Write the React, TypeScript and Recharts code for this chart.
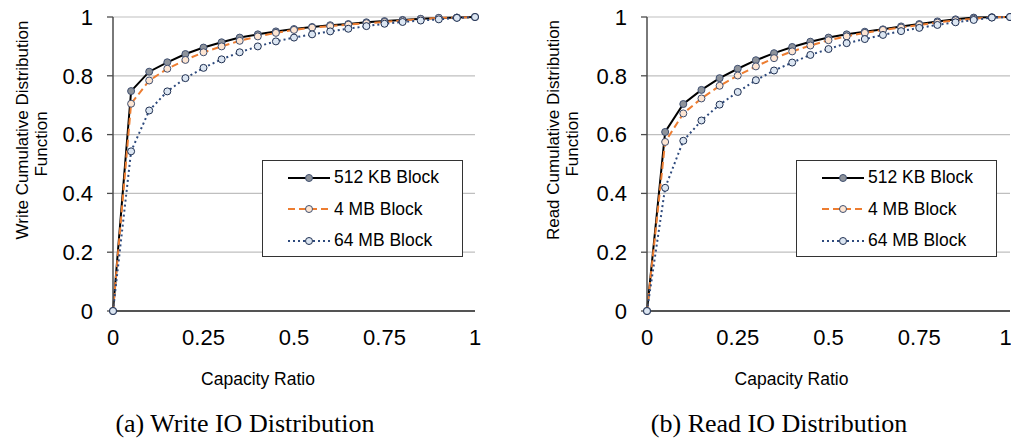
import { LineChart, Line, XAxis, YAxis, CartesianGrid, Legend } from 'recharts'

const capacity = [0, 0.05, 0.1, 0.15, 0.2, 0.25, 0.3, 0.35, 0.4, 0.45, 0.5, 0.55, 0.6, 0.65, 0.7, 0.75, 0.8, 0.85, 0.9, 0.95, 1]

const write512 = [0, 0.748, 0.814, 0.846, 0.874, 0.896, 0.914, 0.93, 0.941, 0.951, 0.959, 0.966, 0.972, 0.976, 0.982, 0.986, 0.99, 0.994, 0.997, 0.998, 1]
const write4 = [0, 0.705, 0.784, 0.824, 0.854, 0.88, 0.9, 0.919, 0.934, 0.946, 0.956, 0.964, 0.969, 0.974, 0.979, 0.983, 0.988, 0.993, 0.997, 0.998, 1]
const write64 = [0, 0.543, 0.682, 0.747, 0.792, 0.827, 0.856, 0.88, 0.9, 0.917, 0.93, 0.941, 0.951, 0.96, 0.969, 0.977, 0.983, 0.988, 0.992, 0.997, 1]

const read512 = [0, 0.609, 0.704, 0.752, 0.792, 0.824, 0.853, 0.877, 0.898, 0.916, 0.93, 0.941, 0.95, 0.958, 0.968, 0.976, 0.985, 0.992, 0.998, 0.999, 1]
const read4 = [0, 0.575, 0.672, 0.723, 0.766, 0.801, 0.832, 0.86, 0.883, 0.903, 0.921, 0.934, 0.946, 0.956, 0.964, 0.973, 0.981, 0.989, 0.994, 0.999, 1]
const read64 = [0, 0.419, 0.579, 0.648, 0.702, 0.745, 0.785, 0.818, 0.845, 0.871, 0.891, 0.911, 0.925, 0.939, 0.952, 0.963, 0.973, 0.982, 0.99, 0.998, 1]

const xTicks = [0, 0.25, 0.5, 0.75, 1]
const yTicks = [0, 0.2, 0.4, 0.6, 0.8, 1]
const seriesNames = ['512 KB Block', '4 MB Block', '64 MB Block']

const FONT = '"Liberation Sans", Arial, sans-serif'

const styles = [
  { key: 's512', color: '#000000', dash: undefined, fill: '#8e939b', dotStroke: '#3f4f70' },
  { key: 's4', color: '#ed7d31', dash: '7 4', fill: '#fde5d2', dotStroke: '#3f4f70' },
  { key: 's64', color: '#2e4a7d', dash: '2 3', fill: '#dce6f2', dotStroke: '#1f2f50' },
]

function buildRows(a: number[], b: number[], c: number[]) {
  return capacity.map((x, i) => ({ x, s512: a[i], s4: b[i], s64: c[i] }))
}

function LegendBox() {
  return (
    <div style={{ border: '1px solid #333', background: '#fff', width: 199, height: 94, boxSizing: 'content-box', paddingTop: 1 }}>
      {styles.map((s, i) => (
        <div key={s.key} style={{ display: 'flex', alignItems: 'center', height: 31.5, fontFamily: FONT, fontSize: 17.5, color: '#000' }}>
          <svg width={71} height={12} style={{ flex: 'none' }}>
            <line x1={25} x2={67} y1={6} y2={6} stroke={s.color} strokeWidth={2} strokeDasharray={s.dash} />
            <circle cx={46} cy={6} r={3.5} fill={s.fill} stroke={s.dotStroke} strokeWidth={1} />
          </svg>
          <span>{seriesNames[i]}</span>
        </div>
      ))}
    </div>
  )
}

interface PanelProps {
  rows: { x: number; s512: number; s4: number; s64: number }[]
  yTitle: string
  caption: string
  left: number
  width: number
  marginLeft: number
  marginRight: number
  legendLeft: number
  titleX: number
  captionX: number
  labelShift: number
}

function Panel({ rows, yTitle, caption, left, width, marginLeft, marginRight, legendLeft, titleX, captionX, labelShift }: PanelProps) {
  return (
    <div style={{ position: 'absolute', left, top: 0, width, height: 446 }}>
      <LineChart width={width} height={446} data={rows}
        margin={{ top: 17, right: marginRight, bottom: 105, left: marginLeft }}>
        <CartesianGrid horizontal vertical={false} stroke="#bfbfbf" strokeWidth={1.2} />
        <XAxis dataKey="x" type="number" domain={[0, 1]} ticks={xTicks} height={30}
          tickFormatter={(v: number) => String(v)}
          axisLine={{ stroke: '#262626', strokeWidth: 1.3 }} tickLine={false} tickMargin={12}
          tick={{ fontSize: 22, fontFamily: FONT, fill: '#000' }}
          label={{
            content: ({ viewBox }: any) => (
              <text x={viewBox.x + viewBox.width / 2 + labelShift} y={379} dy="0.35em" textAnchor="middle"
                fontSize={17.5} fontFamily={FONT} fill="#000">Capacity Ratio</text>
            ),
          }} />
        <YAxis type="number" domain={[0, 1]} ticks={yTicks} width={60} interval={0}
          tickFormatter={(v: number) => String(v)}
          axisLine={{ stroke: '#4d4d4d', strokeWidth: 1.5 }} tickLine={{ stroke: '#4d4d4d', strokeWidth: 1.3 }}
          tickSize={6} tickMargin={14}
          tick={{ fontSize: 22, fontFamily: FONT, fill: '#000' }}
          label={{
            content: () => (
              <g>
                <text transform={`translate(${titleX},130) rotate(-90)`} textAnchor="middle" fontSize={17}
                  fontFamily={FONT} fill="#000" dy="0.35em">{yTitle}</text>
                <text transform={`translate(${titleX + 19},144) rotate(-90)`} textAnchor="middle" fontSize={17}
                  fontFamily={FONT} fill="#000" dy="0.35em">Function</text>
              </g>
            ),
          }} />
        <Legend layout="vertical" align="center" verticalAlign="middle"
          wrapperStyle={{ left: legendLeft, top: 160, width: 201 }}
          content={() => <LegendBox />} />
        {styles.map((s, i) => (
          <Line key={s.key} dataKey={s.key} name={seriesNames[i]} type="linear"
            stroke={s.color} strokeWidth={2} strokeDasharray={s.dash}
            dot={{ r: 3.5, fill: s.fill, stroke: s.dotStroke, strokeWidth: 1, strokeDasharray: '' }}
            isAnimationActive={false} />
        ))}
      </LineChart>
      <div style={{ position: 'absolute', left: captionX - 170, width: 340, top: 409, textAlign: 'center',
        fontFamily: '"Liberation Serif", "Times New Roman", serif', fontSize: 26, color: '#000', whiteSpace: 'nowrap' }}>
        {caption}
      </div>
    </div>
  )
}

export default function App() {
  return (
    <div style={{ position: 'absolute', left: 0, top: 0, width: 1011, height: 446, background: '#fff', overflow: 'hidden' }}>
      <Panel rows={buildRows(write512, write4, write64)} yTitle="Write Cumulative Distribution"
        caption="(a) Write IO Distribution" left={0} width={500} marginLeft={53} marginRight={25}
        legendLeft={262} titleX={22} captionX={245} labelShift={-36} />
      <Panel rows={buildRows(read512, read4, read64)} yTitle="Read Cumulative Distribution"
        caption="(b) Read IO Distribution" left={530} width={481} marginLeft={57} marginRight={1}
        legendLeft={266} titleX={23} captionX={249} labelShift={-37} />
    </div>
  )
}
